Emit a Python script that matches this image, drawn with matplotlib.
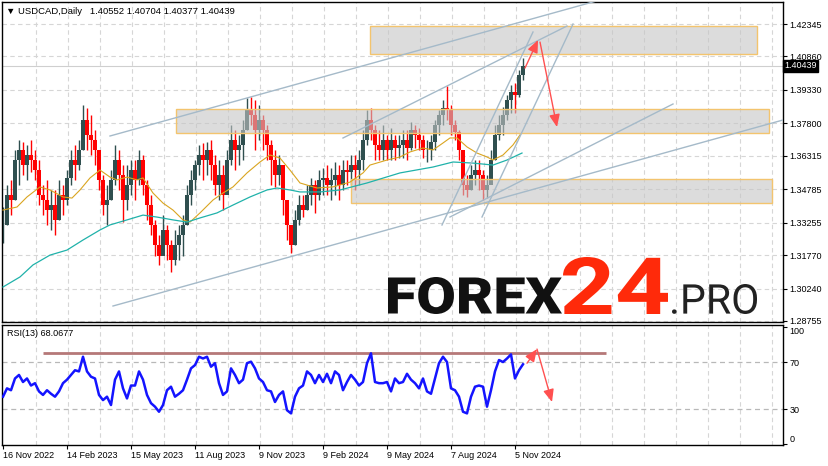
import matplotlib
matplotlib.use("Agg")
import matplotlib.pyplot as plt
from matplotlib.patches import Rectangle, PathPatch
from matplotlib.textpath import TextPath
from matplotlib.font_manager import FontProperties
from matplotlib.transforms import Affine2D, blended_transform_factory

plt.rcParams['font.family'] = ['Liberation Sans', 'DejaVu Sans']

# USDCAD daily, one sample every 4 trading days from 16 Nov 2022
step = 4
closes = [1.3315, 1.3452, 1.3429, 1.3612, 1.3658, 1.3589, 1.3635, 1.3612, 1.3566, 1.3452,
          1.3429, 1.3383, 1.3406, 1.3338, 1.3452, 1.3429, 1.3530, 1.3612, 1.3589, 1.3658,
          1.3795, 1.3727, 1.3704, 1.3658, 1.3521, 1.3406, 1.3429, 1.3521, 1.3612, 1.3544,
          1.3429, 1.3498, 1.3566, 1.3521, 1.3612, 1.3498, 1.3406, 1.3315, 1.3223, 1.3173,
          1.3292, 1.3223, 1.3155, 1.3223, 1.3269, 1.3315, 1.3452, 1.3521, 1.3589, 1.3635,
          1.3612, 1.3658, 1.3589, 1.3498, 1.3544, 1.3452, 1.3612, 1.3704, 1.3658, 1.3681,
          1.3749, 1.3841, 1.3818, 1.3749, 1.3795, 1.3749, 1.3681, 1.3612, 1.3544, 1.3589,
          1.3429, 1.3315, 1.3223, 1.3338, 1.3406, 1.3383, 1.3452, 1.3498, 1.3452, 1.3521,
          1.3530, 1.3498, 1.3521, 1.3544, 1.3498, 1.3566, 1.3557, 1.3589, 1.3566, 1.3612,
          1.3704, 1.3795, 1.3749, 1.3681, 1.3658, 1.3704, 1.3658, 1.3704, 1.3667, 1.3681,
          1.3704, 1.3667, 1.3749, 1.3727, 1.3704, 1.3658, 1.3658, 1.3694, 1.3772, 1.3818,
          1.3850, 1.3841, 1.3772, 1.3740, 1.3658, 1.3498, 1.3475, 1.3544, 1.3566, 1.3544,
          1.3475, 1.3498, 1.3612, 1.3727, 1.3772, 1.3818, 1.3887, 1.3923, 1.3910, 1.4001,
          1.40439]
highs = [1.3397, 1.3498, 1.3521, 1.3658, 1.3704, 1.3694, 1.3681, 1.3704, 1.3658, 1.3612,
         1.3498, 1.3521, 1.3475, 1.3475, 1.3521, 1.3498, 1.3566, 1.3658, 1.3681, 1.3704,
         1.3864, 1.3850, 1.3818, 1.3749, 1.3635, 1.3544, 1.3498, 1.3566, 1.3681, 1.3658,
         1.3589, 1.3589, 1.3612, 1.3612, 1.3658, 1.3635, 1.3521, 1.3452, 1.3338, 1.3269,
         1.3360, 1.3315, 1.3246, 1.3292, 1.3315, 1.3360, 1.3498, 1.3566, 1.3612, 1.3681,
         1.3690, 1.3694, 1.3704, 1.3635, 1.3612, 1.3589, 1.3658, 1.3772, 1.3749, 1.3727,
         1.3795, 1.3896, 1.3900, 1.3887, 1.3864, 1.3818, 1.3772, 1.3704, 1.3658, 1.3635,
         1.3589, 1.3429, 1.3315, 1.3383, 1.3452, 1.3452, 1.3498, 1.3530, 1.3521, 1.3566,
         1.3575, 1.3589, 1.3575, 1.3603, 1.3589, 1.3612, 1.3612, 1.3635, 1.3635, 1.3658,
         1.3749, 1.3841, 1.3850, 1.3772, 1.3749, 1.3772, 1.3727, 1.3759, 1.3727, 1.3727,
         1.3749, 1.3749, 1.3786, 1.3772, 1.3759, 1.3727, 1.3704, 1.3727, 1.3795, 1.3841,
         1.3887, 1.3951, 1.3864, 1.3795, 1.3749, 1.3635, 1.3544, 1.3589, 1.3612, 1.3612,
         1.3566, 1.3544, 1.3658, 1.3772, 1.3818, 1.3855, 1.3910, 1.3955, 1.3964, 1.4024,
         1.4079]
lows = [1.3232, 1.3315, 1.3360, 1.3429, 1.3498, 1.3544, 1.3521, 1.3557, 1.3521, 1.3406,
        1.3360, 1.3315, 1.3292, 1.3269, 1.3338, 1.3360, 1.3406, 1.3498, 1.3521, 1.3566,
        1.3658, 1.3658, 1.3635, 1.3589, 1.3475, 1.3360, 1.3315, 1.3429, 1.3498, 1.3475,
        1.3328, 1.3383, 1.3452, 1.3429, 1.3498, 1.3452, 1.3338, 1.3269, 1.3173, 1.3132,
        1.3200, 1.3155, 1.3100, 1.3132, 1.3155, 1.3173, 1.3315, 1.3406, 1.3475, 1.3544,
        1.3521, 1.3544, 1.3521, 1.3452, 1.3429, 1.3383, 1.3498, 1.3589, 1.3566, 1.3589,
        1.3612, 1.3749, 1.3772, 1.3658, 1.3704, 1.3658, 1.3612, 1.3498, 1.3489, 1.3498,
        1.3360, 1.3246, 1.3186, 1.3223, 1.3315, 1.3351, 1.3383, 1.3406, 1.3370, 1.3429,
        1.3452, 1.3452, 1.3429, 1.3452, 1.3429, 1.3475, 1.3498, 1.3498, 1.3475, 1.3498,
        1.3566, 1.3681, 1.3704, 1.3612, 1.3612, 1.3612, 1.3612, 1.3612, 1.3612, 1.3621,
        1.3621, 1.3612, 1.3658, 1.3667, 1.3658, 1.3621, 1.3603, 1.3612, 1.3658, 1.3727,
        1.3772, 1.3795, 1.3727, 1.3704, 1.3612, 1.3452, 1.3443, 1.3475, 1.3498, 1.3475,
        1.3429, 1.3438, 1.3521, 1.3612, 1.3704, 1.3727, 1.3795, 1.3827, 1.3827, 1.3900,
        1.3978]
rsi = [40.5, 47.6, 46, 56, 59, 53, 56, 50, 52, 45, 42, 46, 43, 40.5, 45, 52, 55, 59, 63, 62,
       74.5, 62, 57.5, 56, 42, 37.6, 40.5, 33.4, 55, 62, 47.6, 39, 50, 50, 62, 55, 42, 35, 32, 27.7,
       33.4, 46, 49, 40.5, 43, 46, 55, 64.6, 67.4, 74.5, 73, 74.5, 66, 69, 52, 42, 45, 64.6, 59, 52,
       55, 69, 70.3, 64.6, 56, 53, 46, 45, 36, 42, 45, 29, 26.3, 40.5, 47.6, 50, 62, 59, 52, 59,
       53, 60, 52, 62, 59, 46, 53, 59, 55, 50, 53, 69, 77.4, 53, 52, 52, 53, 45, 56, 52,
       53, 60, 55, 52, 47.6, 56, 45, 43, 56, 69, 74.5, 70, 47.6, 46, 40.5, 27.7, 26.3, 40.5, 49, 50,
       49, 32, 46, 62, 71.7, 70, 73, 76.5, 56, 63, 68.07]

# moving averages (trading day index, price)
ma_fast_days = [0, 14, 24, 37, 47, 60, 69, 77, 87, 97, 107, 114, 124, 134, 140, 150, 160, 170,
                180, 187, 197, 210, 220, 230, 244, 257, 267, 277, 287, 297, 314, 330, 347, 360,
                367, 384, 397, 407, 420, 430, 440, 447, 454, 464, 474, 484, 490, 500, 510, 517]
ma_fast = [1.3383, 1.3397, 1.3443, 1.3489, 1.3475, 1.3443, 1.3438, 1.3475, 1.3530, 1.3566,
           1.3534, 1.3521, 1.3534, 1.3521, 1.3530, 1.3461, 1.3415, 1.3383, 1.3338, 1.3328,
           1.3370, 1.3429, 1.3461, 1.3489, 1.3553, 1.3603, 1.3635, 1.3621, 1.3566, 1.3507,
           1.3484, 1.3489, 1.3511, 1.3553, 1.3589, 1.3612, 1.3626, 1.3649, 1.3667, 1.3658,
           1.3690, 1.3713, 1.3713, 1.3672, 1.3644, 1.3626, 1.3612, 1.3635, 1.3681, 1.3727]
ma_slow_days = [0, 17, 30, 47, 64, 80, 97, 107, 124, 140, 154, 170, 184, 197, 214, 230, 247,
                264, 274, 287, 297, 317, 337, 364, 397, 430, 450, 470, 490, 504, 519]
ma_slow = [1.3031, 1.3077, 1.3132, 1.3177, 1.3200, 1.3246, 1.3292, 1.3315, 1.3338, 1.3360,
           1.3351, 1.3338, 1.3328, 1.3347, 1.3370, 1.3406, 1.3443, 1.3475, 1.3484, 1.3475,
           1.3466, 1.3466, 1.3475, 1.3507, 1.3553, 1.3580, 1.3603, 1.3598, 1.3589, 1.3612,
           1.3644]

price_ticks = [1.42345, 1.40860, 1.39330, 1.37800, 1.36315, 1.34785, 1.33255, 1.31770,
               1.30240, 1.28755]
date_days = [0, 64, 128, 192, 256, 320, 384, 448, 512]
date_labels = ['16 Nov 2022', '14 Feb 2023', '15 May 2023', '11 Aug 2023', '9 Nov 2023',
               '9 Feb 2024', '9 May 2024', '7 Aug 2024', '5 Nov 2024']
quote = [1.40552, 1.40704, 1.40377, 1.40439]
rsi_last = 68.0677
rsi_level = 78

# zones: (day from, day to, price low, price high)
zones = [(367, 754, 1.40972, 1.42253),
         (173, 766, 1.37357, 1.38455),
         (348, 769, 1.34154, 1.35252)]
# trend lines: (day0, price0, day1, price1)
trend_lines = [(107, 1.37220, 597, 1.43443),
               (110, 1.29440, 780, 1.37952),
               (340, 1.37128, 564, 1.42253),
               (439, 1.33147, 530, 1.41979),
               (479, 1.33513, 570, 1.42345),
               (447, 1.33513, 670, 1.38684)]

W, H = 829, 466
BULL, BEAR = '#2f4f4f', '#ff0000'
GRID = '#d6d6d6'
LINE = '#a5bac9'
ARROW = '#ff5050'
FS = 6.5

fig = plt.figure(figsize=(W / 100, H / 100), dpi=100)
ax = fig.add_axes([2 / W, 1 - 322 / H, 781 / W, 320 / H])
rax = fig.add_axes([2 / W, 1 - 445 / H, 781 / W, 120 / H])

for a in (ax, rax):
    a.set_xlim(-1, 780)
    for s in a.spines.values():
        s.set_linewidth(1.0)
        s.set_color('black')
    for d in range(33, 780, 32):
        a.axvline(d, color=GRID, lw=0.8, ls=(0, (4, 3)), zorder=0)

# main panel
ax.set_ylim(1.28708, 1.43352)
for p in price_ticks:
    ax.axhline(p, color=GRID, lw=0.8, ls=(0, (4, 3)), zorder=0)

days = [i * step for i in range(len(closes))]
opens = [closes[0]] + closes[:-1]
colors = [BULL if c >= o else BEAR for o, c in zip(opens, closes)]
ax.vlines(days, lows, highs, colors=colors, lw=1.0, zorder=2)
ax.bar(days, [c - o for o, c in zip(opens, closes)], bottom=opens, width=3.2,
       color=colors, lw=0, zorder=2)

for d0, d1, p0, p1 in zones:
    ax.add_patch(Rectangle((d0, p0), d1 - d0, p1 - p0, fc='#c6c6c6', alpha=0.6,
                           lw=0, zorder=3))
    ax.add_patch(Rectangle((d0, p0), d1 - d0, p1 - p0, fc='none', ec='#f3c46e',
                           lw=1.0, zorder=3))

ax.plot(ma_fast_days, ma_fast, color='#daa520', lw=0.8, zorder=4)
ax.plot(ma_slow_days, ma_slow, color='#20b2aa', lw=0.9, zorder=4)

for d0, p0, d1, p1 in trend_lines:
    ax.plot([d0, d1], [p0, p1], color=LINE, lw=1.0, zorder=5)

arrow = dict(arrowstyle='-|>,head_length=0.75,head_width=0.32', color=ARROW, lw=1.0,
             mutation_scale=10, shrinkA=0, shrinkB=0)
ax.annotate('', xy=(535, 1.4161), xytext=(522, 1.4033), arrowprops=arrow, zorder=6)
ax.annotate('', xy=(554, 1.3763), xytext=(537, 1.4152), arrowprops=arrow, zorder=6)

ax.axhline(quote[3], color='#cfcfcf', lw=0.8, zorder=1)
ax.set_xticks([])
ax.set_yticks(price_ticks)
ax.set_yticklabels([f'{p:.5f}' for p in price_ticks], fontsize=FS)
ax.yaxis.tick_right()
ax.tick_params(axis='y', length=3, width=0.8, pad=1.5)
tr = blended_transform_factory(ax.transAxes, ax.transData)
ax.text(1.0015, quote[3], f'{quote[3]:.5f}', transform=tr, fontsize=FS, color='white',
        va='center', ha='left', zorder=10,
        bbox=dict(boxstyle='square,pad=0.15', fc='black', ec='black'))

# RSI panel
rax.set_ylim(-0.6, 101.5)
for lvl in (70, 30):
    rax.axhline(lvl, color='#b8b8b8', lw=0.9, ls=(0, (4, 3)), zorder=0)
rax.plot(days, rsi, color='#1414ff', lw=1.8, zorder=3)
rax.hlines(rsi_level, 40, 603, color='#a86060', lw=2.0, alpha=0.85, zorder=2)
rax.annotate('', xy=(534, 81), xytext=(524, 69), arrowprops=arrow, zorder=6)
rax.annotate('', xy=(549, 36), xytext=(534, 81), arrowprops=arrow, zorder=6)
rax.set_yticks([100, 70, 30, 0])
rax.set_yticklabels(['100', '70', '30', '0'], fontsize=FS)
rax.yaxis.tick_right()
rax.tick_params(axis='y', length=3, width=0.8, pad=1.5)
lbls = rax.get_yticklabels()
lbls[0].set_va('top')
lbls[3].set_va('bottom')
rax.set_xticks(date_days)
rax.set_xticklabels(date_labels, fontsize=FS, ha='left')
rax.tick_params(axis='x', length=3, width=0.8, pad=1.5)

# overlay in pixel coordinates for captions and watermark
ov = fig.add_axes([0, 0, 1, 1])
ov.set_xlim(0, W)
ov.set_ylim(H, 0)
ov.axis('off')
ov.patch.set_visible(False)
ov.text(6, 11, '\u25bc USDCAD,Daily   ' + ' '.join(f'{q:.5f}' for q in quote),
        fontsize=6.8, va='center', ha='left')
ov.text(7, 334, f'RSI(13) {rsi_last:.4f}', fontsize=FS, va='center', ha='left')


def fit_text(s, x0, x1, ytop, ybase, color, weight):
    tp = TextPath((0, 0), s, size=100, prop=FontProperties(family='Roboto', weight=weight))
    bb = tp.get_extents()
    t = Affine2D().translate(-bb.x0, -bb.y0).scale((x1 - x0) / bb.width,
                                                   -(ybase - ytop) / bb.height)
    t = t.translate(x0, ybase)
    ov.add_patch(PathPatch(t.transform_path(tp), fc=color, ec='none', lw=0))


fit_text('FOREX', 388, 562, 277, 314, '#111111', 'black')
fit_text('24', 563, 668, 257, 314, '#ff2a0a', 'bold')
fit_text('.PRO', 672, 757, 284, 314, '#222222', 'normal')

fig.savefig('out.png', dpi=100)
